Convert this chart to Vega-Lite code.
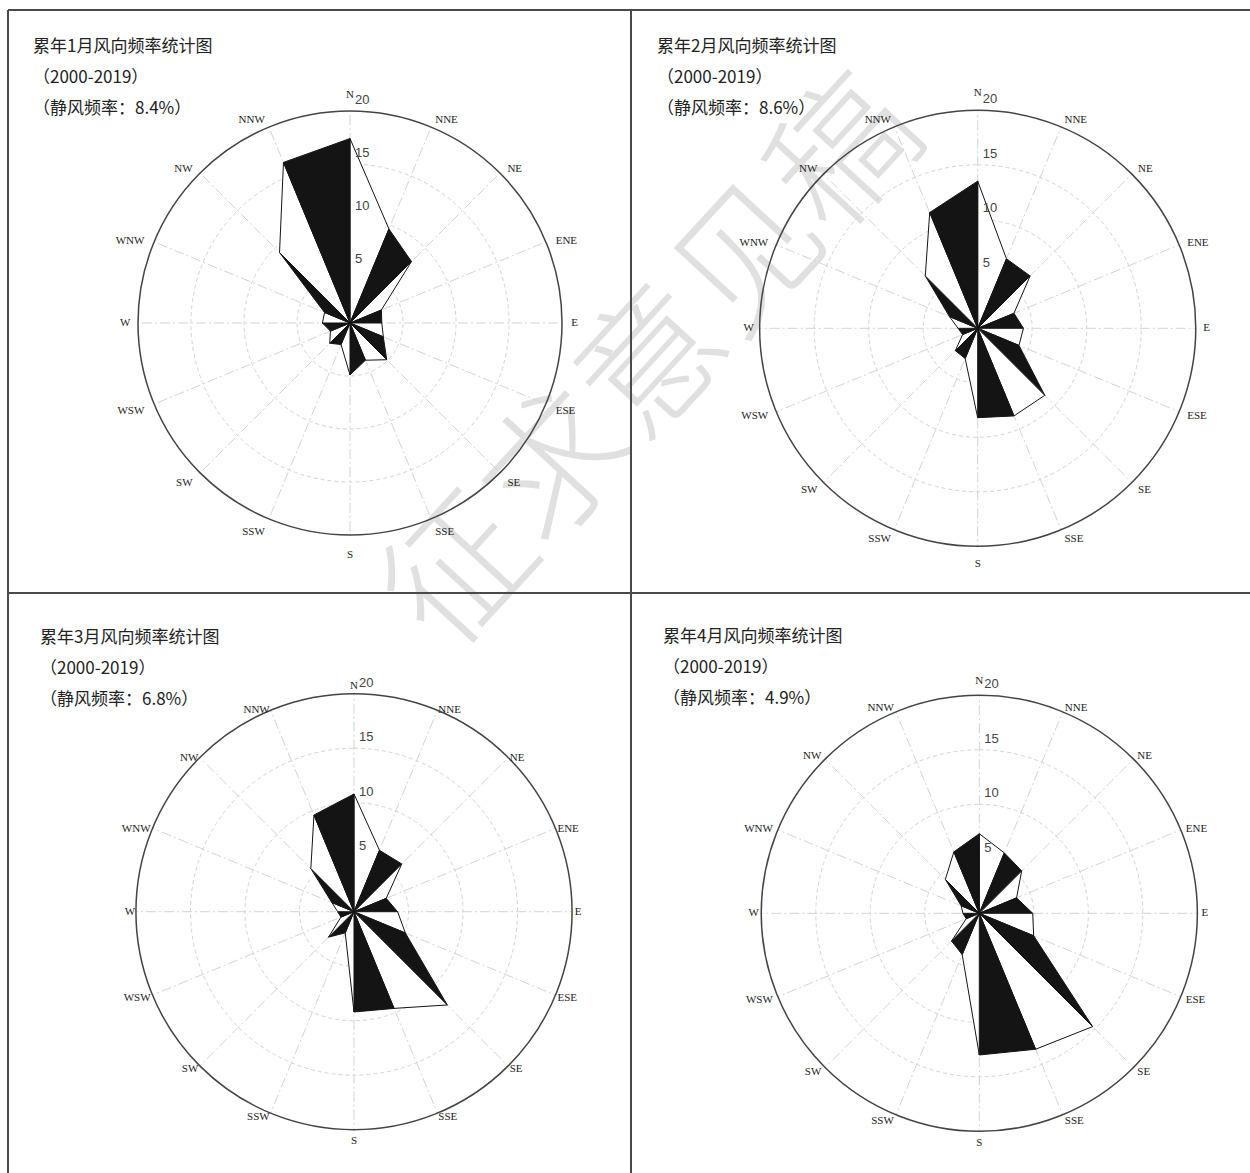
{
  "$schema": "https://vega.github.io/schema/vega-lite/v6.json",
  "background": "white",
  "padding": {"left": 7, "top": 9, "right": 0, "bottom": 0},
  "columns": 2,
  "spacing": 0,
  "bounds": "flush",
  "config": {"view": {"stroke": null}, "axis": {"disable": true}},
  "datasets": {
    "wind": [
      {"m": 1, "dir": "N", "f": 17.4}, {"m": 1, "dir": "NNE", "f": 9.6}, {"m": 1, "dir": "NE", "f": 8.2}, {"m": 1, "dir": "ENE", "f": 3.2},
      {"m": 1, "dir": "E", "f": 3.0}, {"m": 1, "dir": "ESE", "f": 3.4}, {"m": 1, "dir": "SE", "f": 4.9}, {"m": 1, "dir": "SSE", "f": 3.8},
      {"m": 1, "dir": "S", "f": 4.9}, {"m": 1, "dir": "SSW", "f": 2.2}, {"m": 1, "dir": "SW", "f": 2.7}, {"m": 1, "dir": "WSW", "f": 2.0},
      {"m": 1, "dir": "W", "f": 2.6}, {"m": 1, "dir": "WNW", "f": 2.6}, {"m": 1, "dir": "NW", "f": 9.4}, {"m": 1, "dir": "NNW", "f": 16.4},
      {"m": 2, "dir": "N", "f": 13.5}, {"m": 2, "dir": "NNE", "f": 6.9}, {"m": 2, "dir": "NE", "f": 6.8}, {"m": 2, "dir": "ENE", "f": 3.6},
      {"m": 2, "dir": "E", "f": 4.2}, {"m": 2, "dir": "ESE", "f": 4.1}, {"m": 2, "dir": "SE", "f": 8.7}, {"m": 2, "dir": "SSE", "f": 8.7},
      {"m": 2, "dir": "S", "f": 8.2}, {"m": 2, "dir": "SSW", "f": 3.0}, {"m": 2, "dir": "SW", "f": 2.9}, {"m": 2, "dir": "WSW", "f": 1.5},
      {"m": 2, "dir": "W", "f": 1.8}, {"m": 2, "dir": "WNW", "f": 2.8}, {"m": 2, "dir": "NW", "f": 6.8}, {"m": 2, "dir": "NNW", "f": 11.5},
      {"m": 3, "dir": "N", "f": 10.8}, {"m": 3, "dir": "NNE", "f": 6.1}, {"m": 3, "dir": "NE", "f": 6.2}, {"m": 3, "dir": "ENE", "f": 3.2},
      {"m": 3, "dir": "E", "f": 4.0}, {"m": 3, "dir": "ESE", "f": 5.1}, {"m": 3, "dir": "SE", "f": 12.1}, {"m": 3, "dir": "SSE", "f": 9.6},
      {"m": 3, "dir": "S", "f": 9.2}, {"m": 3, "dir": "SSW", "f": 2.1}, {"m": 3, "dir": "SW", "f": 3.3}, {"m": 3, "dir": "WSW", "f": 1.3},
      {"m": 3, "dir": "W", "f": 1.5}, {"m": 3, "dir": "WNW", "f": 2.2}, {"m": 3, "dir": "NW", "f": 5.6}, {"m": 3, "dir": "NNW", "f": 9.6},
      {"m": 4, "dir": "N", "f": 7.3}, {"m": 4, "dir": "NNE", "f": 6.0}, {"m": 4, "dir": "NE", "f": 5.5}, {"m": 4, "dir": "ENE", "f": 3.7},
      {"m": 4, "dir": "E", "f": 4.9}, {"m": 4, "dir": "ESE", "f": 5.4}, {"m": 4, "dir": "SE", "f": 14.7}, {"m": 4, "dir": "SSE", "f": 13.5},
      {"m": 4, "dir": "S", "f": 13.0}, {"m": 4, "dir": "SSW", "f": 4.1}, {"m": 4, "dir": "SW", "f": 3.6}, {"m": 4, "dir": "WSW", "f": 1.3},
      {"m": 4, "dir": "W", "f": 1.5}, {"m": 4, "dir": "WNW", "f": 1.8}, {"m": 4, "dir": "NW", "f": 4.4}, {"m": 4, "dir": "NNW", "f": 6.1}
    ],
    "rings": [{"r": 5}, {"r": 10}, {"r": 15}, {"r": 20}],
    "titles": [
      {"m": 1, "title": "累年1月风向频率统计图", "period": "（2000-2019）", "calm": "（静风频率：8.4%）"},
      {"m": 2, "title": "累年2月风向频率统计图", "period": "（2000-2019）", "calm": "（静风频率：8.6%）"},
      {"m": 3, "title": "累年3月风向频率统计图", "period": "（2000-2019）", "calm": "（静风频率：6.8%）"},
      {"m": 4, "title": "累年4月风向频率统计图", "period": "（2000-2019）", "calm": "（静风频率：4.9%）"}
    ]
  },
  "concat": [
    {
      "width": 623, "height": 583,
      "layer": [
        {"data": {"values": [{"note": "征求意见稿"}]},
         "mark": {"type": "text", "font": "Noto Sans CJK SC", "fontSize": 142, "fontWeight": 300, "angle": -47.3, "align": "center", "baseline": "middle", "fill": "#e0e0e0"},
         "encoding": {"x": {"datum": 28.9, "type": "quantitative", "scale": {"domain": [-32.264, 26.509], "nice": false, "zero": false}},
                      "y": {"datum": -4.0, "type": "quantitative", "scale": {"domain": [-25.472, 29.528], "nice": false, "zero": false}},
                      "text": {"field": "note", "type": "nominal"}}},
        {"data": {"name": "rings"}, "transform": [{"filter": "datum.r < 20"}],
         "mark": {"type": "arc", "filled": false, "stroke": "#d4d4d4", "strokeWidth": 1, "strokeDash": [4, 3], "theta": 0, "theta2": 6.2832},
         "encoding": {"x": {"datum": 0, "type": "quantitative", "scale": {"domain": [-32.264, 26.509], "nice": false, "zero": false}},
                      "y": {"datum": 0, "type": "quantitative", "scale": {"domain": [-25.472, 29.528], "nice": false, "zero": false}},
                      "radius": {"field": "r", "type": "quantitative", "stack": null, "scale": {"type": "linear", "domain": [0, 20], "range": [0, 212]}}}},
        {"data": {"name": "wind"},
         "transform": [{"filter": "datum.m == 1"}, {"window": [{"op": "row_number", "as": "i"}]},
                       {"calculate": "(datum.i - 1) * PI / 8", "as": "a"}, {"calculate": "0", "as": "c0"},
                       {"calculate": "20 * sin(datum.a)", "as": "sx"}, {"calculate": "20 * cos(datum.a)", "as": "sy"}],
         "mark": {"type": "rule", "stroke": "#d4d4d4", "strokeWidth": 1, "strokeDash": [10, 3, 2, 3]},
         "encoding": {"x": {"field": "c0", "type": "quantitative", "scale": {"domain": [-32.264, 26.509], "nice": false, "zero": false}},
                      "y": {"field": "c0", "type": "quantitative", "scale": {"domain": [-25.472, 29.528], "nice": false, "zero": false}},
                      "x2": {"field": "sx"}, "y2": {"field": "sy"}}},
        {"data": {"name": "rings"}, "transform": [{"filter": "datum.r == 20"}],
         "mark": {"type": "arc", "filled": false, "stroke": "#444444", "strokeWidth": 1.5, "theta": 0, "theta2": 6.2832},
         "encoding": {"x": {"datum": 0, "type": "quantitative", "scale": {"domain": [-32.264, 26.509], "nice": false, "zero": false}},
                      "y": {"datum": 0, "type": "quantitative", "scale": {"domain": [-25.472, 29.528], "nice": false, "zero": false}},
                      "radius": {"field": "r", "type": "quantitative", "stack": null, "scale": {"type": "linear", "domain": [0, 20], "range": [0, 212]}}}},
        {"data": {"name": "wind"},
         "transform": [{"filter": "datum.m == 1"}, {"window": [{"op": "row_number", "as": "i"}]},
                       {"window": [{"op": "lead", "field": "f", "as": "fn"}, {"op": "first_value", "field": "f", "as": "f0"}], "sort": [{"field": "i"}], "frame": [null, null]},
                       {"calculate": "datum.fn == null ? datum.f0 : datum.fn", "as": "f2"},
                       {"calculate": "(datum.i - 1) * PI / 8", "as": "a1"}, {"calculate": "datum.i * PI / 8", "as": "a2"},
                       {"calculate": "datum.i % 2 == 0 ? 'black' : 'white'", "as": "shade"},
                       {"calculate": "[0, 1, 2, 3]", "as": "v"}, {"flatten": ["v"]},
                       {"calculate": "datum.v == 1 ? datum.f * sin(datum.a1) : datum.v == 2 ? datum.f2 * sin(datum.a2) : 0", "as": "px"},
                       {"calculate": "datum.v == 1 ? datum.f * cos(datum.a1) : datum.v == 2 ? datum.f2 * cos(datum.a2) : 0", "as": "py"}],
         "mark": {"type": "line", "stroke": "#141414", "strokeWidth": 1, "strokeJoin": "miter"},
         "encoding": {"x": {"field": "px", "type": "quantitative", "scale": {"domain": [-32.264, 26.509], "nice": false, "zero": false}},
                      "y": {"field": "py", "type": "quantitative", "scale": {"domain": [-25.472, 29.528], "nice": false, "zero": false}},
                      "order": {"field": "v", "type": "quantitative"}, "detail": {"field": "i", "type": "nominal"},
                      "fill": {"field": "shade", "type": "nominal", "scale": {"domain": ["black", "white"], "range": ["#141414", "#ffffff"]}, "legend": null}}},
        {"data": {"name": "rings"},
         "mark": {"type": "text", "align": "left", "baseline": "alphabetic", "dx": 5, "dy": -7, "font": "Liberation Sans", "fontSize": 13, "fill": "#444444"},
         "encoding": {"x": {"datum": 0, "type": "quantitative", "scale": {"domain": [-32.264, 26.509], "nice": false, "zero": false}},
                      "y": {"field": "r", "type": "quantitative", "scale": {"domain": [-25.472, 29.528], "nice": false, "zero": false}},
                      "text": {"field": "r", "type": "quantitative"}}},
        {"data": {"name": "wind"},
         "transform": [{"filter": "datum.m == 1"}, {"window": [{"op": "row_number", "as": "i"}]}, {"filter": "datum.i >= 2 && datum.i <= 8 && datum.i != 5"},
                       {"calculate": "(datum.i - 1) * PI / 8", "as": "a"},
                       {"calculate": "21.0 * sin(datum.a)", "as": "lx"}, {"calculate": "21.0 * cos(datum.a)", "as": "ly"}],
         "mark": {"type": "text", "font": "Liberation Serif", "fontSize": 11, "fill": "#222222", "align": "left", "baseline": "middle", "dy": 3},
         "encoding": {"x": {"field": "lx", "type": "quantitative", "scale": {"domain": [-32.264, 26.509], "nice": false, "zero": false}},
                      "y": {"field": "ly", "type": "quantitative", "scale": {"domain": [-25.472, 29.528], "nice": false, "zero": false}},
                      "text": {"field": "dir", "type": "nominal"}}},
        {"data": {"name": "wind"},
         "transform": [{"filter": "datum.m == 1"}, {"window": [{"op": "row_number", "as": "i"}]}, {"filter": "datum.i >= 10 && datum.i != 13"},
                       {"calculate": "(datum.i - 1) * PI / 8", "as": "a"},
                       {"calculate": "21.0 * sin(datum.a)", "as": "lx"}, {"calculate": "21.0 * cos(datum.a)", "as": "ly"}],
         "mark": {"type": "text", "font": "Liberation Serif", "fontSize": 11, "fill": "#222222", "align": "right", "baseline": "middle", "dy": 3},
         "encoding": {"x": {"field": "lx", "type": "quantitative", "scale": {"domain": [-32.264, 26.509], "nice": false, "zero": false}},
                      "y": {"field": "ly", "type": "quantitative", "scale": {"domain": [-25.472, 29.528], "nice": false, "zero": false}},
                      "text": {"field": "dir", "type": "nominal"}}},
        {"data": {"name": "wind"},
         "transform": [{"filter": "datum.m == 1"}, {"window": [{"op": "row_number", "as": "i"}]}, {"filter": "datum.i == 1 || datum.i == 5 || datum.i == 9 || datum.i == 13"},
                       {"calculate": "(datum.i - 1) * PI / 8", "as": "a"},
                       {"calculate": "cos(datum.a) > 0.5 ? 21.5 : cos(datum.a) < -0.5 ? 21.9 : 21.2", "as": "lr"},
                       {"calculate": "datum.lr * sin(datum.a)", "as": "lx"}, {"calculate": "datum.lr * cos(datum.a)", "as": "ly"}],
         "mark": {"type": "text", "font": "Liberation Serif", "fontSize": 11, "fill": "#222222", "align": "center", "baseline": "middle"},
         "encoding": {"x": {"field": "lx", "type": "quantitative", "scale": {"domain": [-32.264, 26.509], "nice": false, "zero": false}},
                      "y": {"field": "ly", "type": "quantitative", "scale": {"domain": [-25.472, 29.528], "nice": false, "zero": false}},
                      "text": {"field": "dir", "type": "nominal"}}},
        {"data": {"name": "titles"},
         "transform": [{"filter": "datum.m == 1"}, {"calculate": "[datum.title, datum.period, datum.calm]", "as": "lines"}],
         "mark": {"type": "text", "align": "left", "baseline": "top", "font": "Noto Sans CJK SC", "fontSize": 17, "lineHeight": 31, "fill": "#222222"},
         "encoding": {"x": {"datum": -29.906, "type": "quantitative", "scale": {"domain": [-32.264, 26.509], "nice": false, "zero": false}},
                      "y": {"datum": 26.79, "type": "quantitative", "scale": {"domain": [-25.472, 29.528], "nice": false, "zero": false}},
                      "text": {"field": "lines", "type": "nominal"}}},
        {"data": {"values": [{"edge": "left"}]},
         "mark": {"type": "rule", "stroke": "#4a4a4a", "strokeWidth": 2},
         "encoding": {"x": {"datum": -32.264, "type": "quantitative", "scale": {"domain": [-32.264, 26.509], "nice": false, "zero": false}}}},
        {"data": {"values": [{"edge": "top"}]},
         "mark": {"type": "rule", "stroke": "#4a4a4a", "strokeWidth": 2},
         "encoding": {"y": {"datum": 29.528, "type": "quantitative", "scale": {"domain": [-25.472, 29.528], "nice": false, "zero": false}}}}
      ]
    },
    {
      "width": 619, "height": 583,
      "layer": [
        {"data": {"name": "rings"}, "transform": [{"filter": "datum.r < 20"}],
         "mark": {"type": "arc", "filled": false, "stroke": "#d4d4d4", "strokeWidth": 1, "strokeDash": [4, 3], "theta": 0, "theta2": 6.2832},
         "encoding": {"x": {"datum": 0, "type": "quantitative", "scale": {"domain": [-31.807, 24.982], "nice": false, "zero": false}},
                      "y": {"datum": 0, "type": "quantitative", "scale": {"domain": [-24.284, 29.202], "nice": false, "zero": false}},
                      "radius": {"field": "r", "type": "quantitative", "stack": null, "scale": {"type": "linear", "domain": [0, 20], "range": [0, 218]}}}},
        {"data": {"name": "wind"},
         "transform": [{"filter": "datum.m == 2"}, {"window": [{"op": "row_number", "as": "i"}]},
                       {"calculate": "(datum.i - 1) * PI / 8", "as": "a"}, {"calculate": "0", "as": "c0"},
                       {"calculate": "20 * sin(datum.a)", "as": "sx"}, {"calculate": "20 * cos(datum.a)", "as": "sy"}],
         "mark": {"type": "rule", "stroke": "#d4d4d4", "strokeWidth": 1, "strokeDash": [10, 3, 2, 3]},
         "encoding": {"x": {"field": "c0", "type": "quantitative", "scale": {"domain": [-31.807, 24.982], "nice": false, "zero": false}},
                      "y": {"field": "c0", "type": "quantitative", "scale": {"domain": [-24.284, 29.202], "nice": false, "zero": false}},
                      "x2": {"field": "sx"}, "y2": {"field": "sy"}}},
        {"data": {"name": "rings"}, "transform": [{"filter": "datum.r == 20"}],
         "mark": {"type": "arc", "filled": false, "stroke": "#444444", "strokeWidth": 1.5, "theta": 0, "theta2": 6.2832},
         "encoding": {"x": {"datum": 0, "type": "quantitative", "scale": {"domain": [-31.807, 24.982], "nice": false, "zero": false}},
                      "y": {"datum": 0, "type": "quantitative", "scale": {"domain": [-24.284, 29.202], "nice": false, "zero": false}},
                      "radius": {"field": "r", "type": "quantitative", "stack": null, "scale": {"type": "linear", "domain": [0, 20], "range": [0, 218]}}}},
        {"data": {"name": "wind"},
         "transform": [{"filter": "datum.m == 2"}, {"window": [{"op": "row_number", "as": "i"}]},
                       {"window": [{"op": "lead", "field": "f", "as": "fn"}, {"op": "first_value", "field": "f", "as": "f0"}], "sort": [{"field": "i"}], "frame": [null, null]},
                       {"calculate": "datum.fn == null ? datum.f0 : datum.fn", "as": "f2"},
                       {"calculate": "(datum.i - 1) * PI / 8", "as": "a1"}, {"calculate": "datum.i * PI / 8", "as": "a2"},
                       {"calculate": "datum.i % 2 == 0 ? 'black' : 'white'", "as": "shade"},
                       {"calculate": "[0, 1, 2, 3]", "as": "v"}, {"flatten": ["v"]},
                       {"calculate": "datum.v == 1 ? datum.f * sin(datum.a1) : datum.v == 2 ? datum.f2 * sin(datum.a2) : 0", "as": "px"},
                       {"calculate": "datum.v == 1 ? datum.f * cos(datum.a1) : datum.v == 2 ? datum.f2 * cos(datum.a2) : 0", "as": "py"}],
         "mark": {"type": "line", "stroke": "#141414", "strokeWidth": 1, "strokeJoin": "miter"},
         "encoding": {"x": {"field": "px", "type": "quantitative", "scale": {"domain": [-31.807, 24.982], "nice": false, "zero": false}},
                      "y": {"field": "py", "type": "quantitative", "scale": {"domain": [-24.284, 29.202], "nice": false, "zero": false}},
                      "order": {"field": "v", "type": "quantitative"}, "detail": {"field": "i", "type": "nominal"},
                      "fill": {"field": "shade", "type": "nominal", "scale": {"domain": ["black", "white"], "range": ["#141414", "#ffffff"]}, "legend": null}}},
        {"data": {"name": "rings"},
         "mark": {"type": "text", "align": "left", "baseline": "alphabetic", "dx": 5, "dy": -7, "font": "Liberation Sans", "fontSize": 13, "fill": "#444444"},
         "encoding": {"x": {"datum": 0, "type": "quantitative", "scale": {"domain": [-31.807, 24.982], "nice": false, "zero": false}},
                      "y": {"field": "r", "type": "quantitative", "scale": {"domain": [-24.284, 29.202], "nice": false, "zero": false}},
                      "text": {"field": "r", "type": "quantitative"}}},
        {"data": {"name": "wind"},
         "transform": [{"filter": "datum.m == 2"}, {"window": [{"op": "row_number", "as": "i"}]}, {"filter": "datum.i >= 2 && datum.i <= 8 && datum.i != 5"},
                       {"calculate": "(datum.i - 1) * PI / 8", "as": "a"},
                       {"calculate": "20.8 * sin(datum.a)", "as": "lx"}, {"calculate": "20.8 * cos(datum.a)", "as": "ly"}],
         "mark": {"type": "text", "font": "Liberation Serif", "fontSize": 11, "fill": "#222222", "align": "left", "baseline": "middle", "dy": 1},
         "encoding": {"x": {"field": "lx", "type": "quantitative", "scale": {"domain": [-31.807, 24.982], "nice": false, "zero": false}},
                      "y": {"field": "ly", "type": "quantitative", "scale": {"domain": [-24.284, 29.202], "nice": false, "zero": false}},
                      "text": {"field": "dir", "type": "nominal"}}},
        {"data": {"name": "wind"},
         "transform": [{"filter": "datum.m == 2"}, {"window": [{"op": "row_number", "as": "i"}]}, {"filter": "datum.i >= 10 && datum.i != 13"},
                       {"calculate": "(datum.i - 1) * PI / 8", "as": "a"},
                       {"calculate": "20.8 * sin(datum.a)", "as": "lx"}, {"calculate": "20.8 * cos(datum.a)", "as": "ly"}],
         "mark": {"type": "text", "font": "Liberation Serif", "fontSize": 11, "fill": "#222222", "align": "right", "baseline": "middle", "dy": 1},
         "encoding": {"x": {"field": "lx", "type": "quantitative", "scale": {"domain": [-31.807, 24.982], "nice": false, "zero": false}},
                      "y": {"field": "ly", "type": "quantitative", "scale": {"domain": [-24.284, 29.202], "nice": false, "zero": false}},
                      "text": {"field": "dir", "type": "nominal"}}},
        {"data": {"name": "wind"},
         "transform": [{"filter": "datum.m == 2"}, {"window": [{"op": "row_number", "as": "i"}]}, {"filter": "datum.i == 1 || datum.i == 5 || datum.i == 9 || datum.i == 13"},
                       {"calculate": "(datum.i - 1) * PI / 8", "as": "a"},
                       {"calculate": "cos(datum.a) > 0.5 ? 21.56 : cos(datum.a) < -0.5 ? 21.6 : 21.0", "as": "lr"},
                       {"calculate": "datum.lr * sin(datum.a)", "as": "lx"}, {"calculate": "datum.lr * cos(datum.a)", "as": "ly"}],
         "mark": {"type": "text", "font": "Liberation Serif", "fontSize": 11, "fill": "#222222", "align": "center", "baseline": "middle"},
         "encoding": {"x": {"field": "lx", "type": "quantitative", "scale": {"domain": [-31.807, 24.982], "nice": false, "zero": false}},
                      "y": {"field": "ly", "type": "quantitative", "scale": {"domain": [-24.284, 29.202], "nice": false, "zero": false}},
                      "text": {"field": "dir", "type": "nominal"}}},
        {"data": {"name": "titles"},
         "transform": [{"filter": "datum.m == 2"}, {"calculate": "[datum.title, datum.period, datum.calm]", "as": "lines"}],
         "mark": {"type": "text", "align": "left", "baseline": "top", "font": "Noto Sans CJK SC", "fontSize": 17, "lineHeight": 31, "fill": "#222222"},
         "encoding": {"x": {"datum": -29.422, "type": "quantitative", "scale": {"domain": [-31.807, 24.982], "nice": false, "zero": false}},
                      "y": {"datum": 26.5, "type": "quantitative", "scale": {"domain": [-24.284, 29.202], "nice": false, "zero": false}},
                      "text": {"field": "lines", "type": "nominal"}}},
        {"data": {"values": [{"edge": "left"}]},
         "mark": {"type": "rule", "stroke": "#4a4a4a", "strokeWidth": 2},
         "encoding": {"x": {"datum": -31.807, "type": "quantitative", "scale": {"domain": [-31.807, 24.982], "nice": false, "zero": false}}}},
        {"data": {"values": [{"edge": "top"}]},
         "mark": {"type": "rule", "stroke": "#4a4a4a", "strokeWidth": 2},
         "encoding": {"y": {"datum": 29.202, "type": "quantitative", "scale": {"domain": [-24.284, 29.202], "nice": false, "zero": false}}}}
      ]
    },
    {
      "width": 623, "height": 580,
      "layer": [
        {"data": {"name": "rings"}, "transform": [{"filter": "datum.r < 20"}],
         "mark": {"type": "arc", "filled": false, "stroke": "#d4d4d4", "strokeWidth": 1, "strokeDash": [4, 3], "theta": 0, "theta2": 6.2832},
         "encoding": {"x": {"datum": 0, "type": "quantitative", "scale": {"domain": [-31.743, 25.413], "nice": false, "zero": false}},
                      "y": {"datum": 0, "type": "quantitative", "scale": {"domain": [-23.972, 29.239], "nice": false, "zero": false}},
                      "radius": {"field": "r", "type": "quantitative", "stack": null, "scale": {"type": "linear", "domain": [0, 20], "range": [0, 218]}}}},
        {"data": {"name": "wind"},
         "transform": [{"filter": "datum.m == 3"}, {"window": [{"op": "row_number", "as": "i"}]},
                       {"calculate": "(datum.i - 1) * PI / 8", "as": "a"}, {"calculate": "0", "as": "c0"},
                       {"calculate": "20 * sin(datum.a)", "as": "sx"}, {"calculate": "20 * cos(datum.a)", "as": "sy"}],
         "mark": {"type": "rule", "stroke": "#d4d4d4", "strokeWidth": 1, "strokeDash": [10, 3, 2, 3]},
         "encoding": {"x": {"field": "c0", "type": "quantitative", "scale": {"domain": [-31.743, 25.413], "nice": false, "zero": false}},
                      "y": {"field": "c0", "type": "quantitative", "scale": {"domain": [-23.972, 29.239], "nice": false, "zero": false}},
                      "x2": {"field": "sx"}, "y2": {"field": "sy"}}},
        {"data": {"name": "rings"}, "transform": [{"filter": "datum.r == 20"}],
         "mark": {"type": "arc", "filled": false, "stroke": "#444444", "strokeWidth": 1.5, "theta": 0, "theta2": 6.2832},
         "encoding": {"x": {"datum": 0, "type": "quantitative", "scale": {"domain": [-31.743, 25.413], "nice": false, "zero": false}},
                      "y": {"datum": 0, "type": "quantitative", "scale": {"domain": [-23.972, 29.239], "nice": false, "zero": false}},
                      "radius": {"field": "r", "type": "quantitative", "stack": null, "scale": {"type": "linear", "domain": [0, 20], "range": [0, 218]}}}},
        {"data": {"name": "wind"},
         "transform": [{"filter": "datum.m == 3"}, {"window": [{"op": "row_number", "as": "i"}]},
                       {"window": [{"op": "lead", "field": "f", "as": "fn"}, {"op": "first_value", "field": "f", "as": "f0"}], "sort": [{"field": "i"}], "frame": [null, null]},
                       {"calculate": "datum.fn == null ? datum.f0 : datum.fn", "as": "f2"},
                       {"calculate": "(datum.i - 1) * PI / 8", "as": "a1"}, {"calculate": "datum.i * PI / 8", "as": "a2"},
                       {"calculate": "datum.i % 2 == 0 ? 'black' : 'white'", "as": "shade"},
                       {"calculate": "[0, 1, 2, 3]", "as": "v"}, {"flatten": ["v"]},
                       {"calculate": "datum.v == 1 ? datum.f * sin(datum.a1) : datum.v == 2 ? datum.f2 * sin(datum.a2) : 0", "as": "px"},
                       {"calculate": "datum.v == 1 ? datum.f * cos(datum.a1) : datum.v == 2 ? datum.f2 * cos(datum.a2) : 0", "as": "py"}],
         "mark": {"type": "line", "stroke": "#141414", "strokeWidth": 1, "strokeJoin": "miter"},
         "encoding": {"x": {"field": "px", "type": "quantitative", "scale": {"domain": [-31.743, 25.413], "nice": false, "zero": false}},
                      "y": {"field": "py", "type": "quantitative", "scale": {"domain": [-23.972, 29.239], "nice": false, "zero": false}},
                      "order": {"field": "v", "type": "quantitative"}, "detail": {"field": "i", "type": "nominal"},
                      "fill": {"field": "shade", "type": "nominal", "scale": {"domain": ["black", "white"], "range": ["#141414", "#ffffff"]}, "legend": null}}},
        {"data": {"name": "rings"},
         "mark": {"type": "text", "align": "left", "baseline": "alphabetic", "dx": 5, "dy": -7, "font": "Liberation Sans", "fontSize": 13, "fill": "#444444"},
         "encoding": {"x": {"datum": 0, "type": "quantitative", "scale": {"domain": [-31.743, 25.413], "nice": false, "zero": false}},
                      "y": {"field": "r", "type": "quantitative", "scale": {"domain": [-23.972, 29.239], "nice": false, "zero": false}},
                      "text": {"field": "r", "type": "quantitative"}}},
        {"data": {"name": "wind"},
         "transform": [{"filter": "datum.m == 3"}, {"window": [{"op": "row_number", "as": "i"}]}, {"filter": "datum.i >= 2 && datum.i <= 8 && datum.i != 5"},
                       {"calculate": "(datum.i - 1) * PI / 8", "as": "a"},
                       {"calculate": "20.2 * sin(datum.a)", "as": "lx"}, {"calculate": "20.2 * cos(datum.a)", "as": "ly"}],
         "mark": {"type": "text", "font": "Liberation Serif", "fontSize": 11, "fill": "#222222", "align": "left", "baseline": "middle", "dy": 2},
         "encoding": {"x": {"field": "lx", "type": "quantitative", "scale": {"domain": [-31.743, 25.413], "nice": false, "zero": false}},
                      "y": {"field": "ly", "type": "quantitative", "scale": {"domain": [-23.972, 29.239], "nice": false, "zero": false}},
                      "text": {"field": "dir", "type": "nominal"}}},
        {"data": {"name": "wind"},
         "transform": [{"filter": "datum.m == 3"}, {"window": [{"op": "row_number", "as": "i"}]}, {"filter": "datum.i >= 10 && datum.i != 13"},
                       {"calculate": "(datum.i - 1) * PI / 8", "as": "a"},
                       {"calculate": "20.2 * sin(datum.a)", "as": "lx"}, {"calculate": "20.2 * cos(datum.a)", "as": "ly"}],
         "mark": {"type": "text", "font": "Liberation Serif", "fontSize": 11, "fill": "#222222", "align": "right", "baseline": "middle", "dy": 2},
         "encoding": {"x": {"field": "lx", "type": "quantitative", "scale": {"domain": [-31.743, 25.413], "nice": false, "zero": false}},
                      "y": {"field": "ly", "type": "quantitative", "scale": {"domain": [-23.972, 29.239], "nice": false, "zero": false}},
                      "text": {"field": "dir", "type": "nominal"}}},
        {"data": {"name": "wind"},
         "transform": [{"filter": "datum.m == 3"}, {"window": [{"op": "row_number", "as": "i"}]}, {"filter": "datum.i == 1 || datum.i == 5 || datum.i == 9 || datum.i == 13"},
                       {"calculate": "(datum.i - 1) * PI / 8", "as": "a"},
                       {"calculate": "cos(datum.a) > 0.5 ? 20.7 : cos(datum.a) < -0.5 ? 21.0 : 20.55", "as": "lr"},
                       {"calculate": "datum.lr * sin(datum.a)", "as": "lx"}, {"calculate": "datum.lr * cos(datum.a)", "as": "ly"}],
         "mark": {"type": "text", "font": "Liberation Serif", "fontSize": 11, "fill": "#222222", "align": "center", "baseline": "middle"},
         "encoding": {"x": {"field": "lx", "type": "quantitative", "scale": {"domain": [-31.743, 25.413], "nice": false, "zero": false}},
                      "y": {"field": "ly", "type": "quantitative", "scale": {"domain": [-23.972, 29.239], "nice": false, "zero": false}},
                      "text": {"field": "dir", "type": "nominal"}}},
        {"data": {"name": "titles"},
         "transform": [{"filter": "datum.m == 3"}, {"calculate": "[datum.title, datum.period, datum.calm]", "as": "lines"}],
         "mark": {"type": "text", "align": "left", "baseline": "top", "font": "Noto Sans CJK SC", "fontSize": 17, "lineHeight": 31, "fill": "#222222"},
         "encoding": {"x": {"datum": -28.807, "type": "quantitative", "scale": {"domain": [-31.743, 25.413], "nice": false, "zero": false}},
                      "y": {"datum": 25.85, "type": "quantitative", "scale": {"domain": [-23.972, 29.239], "nice": false, "zero": false}},
                      "text": {"field": "lines", "type": "nominal"}}},
        {"data": {"values": [{"edge": "left"}]},
         "mark": {"type": "rule", "stroke": "#4a4a4a", "strokeWidth": 2},
         "encoding": {"x": {"datum": -31.743, "type": "quantitative", "scale": {"domain": [-31.743, 25.413], "nice": false, "zero": false}}}},
        {"data": {"values": [{"edge": "top"}]},
         "mark": {"type": "rule", "stroke": "#4a4a4a", "strokeWidth": 2},
         "encoding": {"y": {"datum": 29.239, "type": "quantitative", "scale": {"domain": [-23.972, 29.239], "nice": false, "zero": false}}}}
      ]
    },
    {
      "width": 619, "height": 580,
      "layer": [
        {"data": {"name": "rings"}, "transform": [{"filter": "datum.r < 20"}],
         "mark": {"type": "arc", "filled": false, "stroke": "#d4d4d4", "strokeWidth": 1, "strokeDash": [4, 3], "theta": 0, "theta2": 6.2832},
         "encoding": {"x": {"datum": 0, "type": "quantitative", "scale": {"domain": [-31.954, 24.835], "nice": false, "zero": false}},
                      "y": {"datum": 0, "type": "quantitative", "scale": {"domain": [-23.826, 29.385], "nice": false, "zero": false}},
                      "radius": {"field": "r", "type": "quantitative", "stack": null, "scale": {"type": "linear", "domain": [0, 20], "range": [0, 218]}}}},
        {"data": {"name": "wind"},
         "transform": [{"filter": "datum.m == 4"}, {"window": [{"op": "row_number", "as": "i"}]},
                       {"calculate": "(datum.i - 1) * PI / 8", "as": "a"}, {"calculate": "0", "as": "c0"},
                       {"calculate": "20 * sin(datum.a)", "as": "sx"}, {"calculate": "20 * cos(datum.a)", "as": "sy"}],
         "mark": {"type": "rule", "stroke": "#d4d4d4", "strokeWidth": 1, "strokeDash": [10, 3, 2, 3]},
         "encoding": {"x": {"field": "c0", "type": "quantitative", "scale": {"domain": [-31.954, 24.835], "nice": false, "zero": false}},
                      "y": {"field": "c0", "type": "quantitative", "scale": {"domain": [-23.826, 29.385], "nice": false, "zero": false}},
                      "x2": {"field": "sx"}, "y2": {"field": "sy"}}},
        {"data": {"name": "rings"}, "transform": [{"filter": "datum.r == 20"}],
         "mark": {"type": "arc", "filled": false, "stroke": "#444444", "strokeWidth": 1.5, "theta": 0, "theta2": 6.2832},
         "encoding": {"x": {"datum": 0, "type": "quantitative", "scale": {"domain": [-31.954, 24.835], "nice": false, "zero": false}},
                      "y": {"datum": 0, "type": "quantitative", "scale": {"domain": [-23.826, 29.385], "nice": false, "zero": false}},
                      "radius": {"field": "r", "type": "quantitative", "stack": null, "scale": {"type": "linear", "domain": [0, 20], "range": [0, 218]}}}},
        {"data": {"name": "wind"},
         "transform": [{"filter": "datum.m == 4"}, {"window": [{"op": "row_number", "as": "i"}]},
                       {"window": [{"op": "lead", "field": "f", "as": "fn"}, {"op": "first_value", "field": "f", "as": "f0"}], "sort": [{"field": "i"}], "frame": [null, null]},
                       {"calculate": "datum.fn == null ? datum.f0 : datum.fn", "as": "f2"},
                       {"calculate": "(datum.i - 1) * PI / 8", "as": "a1"}, {"calculate": "datum.i * PI / 8", "as": "a2"},
                       {"calculate": "datum.i % 2 == 0 ? 'black' : 'white'", "as": "shade"},
                       {"calculate": "[0, 1, 2, 3]", "as": "v"}, {"flatten": ["v"]},
                       {"calculate": "datum.v == 1 ? datum.f * sin(datum.a1) : datum.v == 2 ? datum.f2 * sin(datum.a2) : 0", "as": "px"},
                       {"calculate": "datum.v == 1 ? datum.f * cos(datum.a1) : datum.v == 2 ? datum.f2 * cos(datum.a2) : 0", "as": "py"}],
         "mark": {"type": "line", "stroke": "#141414", "strokeWidth": 1, "strokeJoin": "miter"},
         "encoding": {"x": {"field": "px", "type": "quantitative", "scale": {"domain": [-31.954, 24.835], "nice": false, "zero": false}},
                      "y": {"field": "py", "type": "quantitative", "scale": {"domain": [-23.826, 29.385], "nice": false, "zero": false}},
                      "order": {"field": "v", "type": "quantitative"}, "detail": {"field": "i", "type": "nominal"},
                      "fill": {"field": "shade", "type": "nominal", "scale": {"domain": ["black", "white"], "range": ["#141414", "#ffffff"]}, "legend": null}}},
        {"data": {"name": "rings"},
         "mark": {"type": "text", "align": "left", "baseline": "alphabetic", "dx": 5, "dy": -7, "font": "Liberation Sans", "fontSize": 13, "fill": "#444444"},
         "encoding": {"x": {"datum": 0, "type": "quantitative", "scale": {"domain": [-31.954, 24.835], "nice": false, "zero": false}},
                      "y": {"field": "r", "type": "quantitative", "scale": {"domain": [-23.826, 29.385], "nice": false, "zero": false}},
                      "text": {"field": "r", "type": "quantitative"}}},
        {"data": {"name": "wind"},
         "transform": [{"filter": "datum.m == 4"}, {"window": [{"op": "row_number", "as": "i"}]}, {"filter": "datum.i >= 2 && datum.i <= 8 && datum.i != 5"},
                       {"calculate": "(datum.i - 1) * PI / 8", "as": "a"},
                       {"calculate": "20.5 * sin(datum.a)", "as": "lx"}, {"calculate": "20.5 * cos(datum.a)", "as": "ly"}],
         "mark": {"type": "text", "font": "Liberation Serif", "fontSize": 11, "fill": "#222222", "align": "left", "baseline": "middle", "dy": 1},
         "encoding": {"x": {"field": "lx", "type": "quantitative", "scale": {"domain": [-31.954, 24.835], "nice": false, "zero": false}},
                      "y": {"field": "ly", "type": "quantitative", "scale": {"domain": [-23.826, 29.385], "nice": false, "zero": false}},
                      "text": {"field": "dir", "type": "nominal"}}},
        {"data": {"name": "wind"},
         "transform": [{"filter": "datum.m == 4"}, {"window": [{"op": "row_number", "as": "i"}]}, {"filter": "datum.i >= 10 && datum.i != 13"},
                       {"calculate": "(datum.i - 1) * PI / 8", "as": "a"},
                       {"calculate": "20.5 * sin(datum.a)", "as": "lx"}, {"calculate": "20.5 * cos(datum.a)", "as": "ly"}],
         "mark": {"type": "text", "font": "Liberation Serif", "fontSize": 11, "fill": "#222222", "align": "right", "baseline": "middle", "dy": 1},
         "encoding": {"x": {"field": "lx", "type": "quantitative", "scale": {"domain": [-31.954, 24.835], "nice": false, "zero": false}},
                      "y": {"field": "ly", "type": "quantitative", "scale": {"domain": [-23.826, 29.385], "nice": false, "zero": false}},
                      "text": {"field": "dir", "type": "nominal"}}},
        {"data": {"name": "wind"},
         "transform": [{"filter": "datum.m == 4"}, {"window": [{"op": "row_number", "as": "i"}]}, {"filter": "datum.i == 1 || datum.i == 5 || datum.i == 9 || datum.i == 13"},
                       {"calculate": "(datum.i - 1) * PI / 8", "as": "a"},
                       {"calculate": "cos(datum.a) > 0.5 ? 21.3 : cos(datum.a) < -0.5 ? 21.1 : 20.7", "as": "lr"},
                       {"calculate": "datum.lr * sin(datum.a)", "as": "lx"}, {"calculate": "datum.lr * cos(datum.a)", "as": "ly"}],
         "mark": {"type": "text", "font": "Liberation Serif", "fontSize": 11, "fill": "#222222", "align": "center", "baseline": "middle"},
         "encoding": {"x": {"field": "lx", "type": "quantitative", "scale": {"domain": [-31.954, 24.835], "nice": false, "zero": false}},
                      "y": {"field": "ly", "type": "quantitative", "scale": {"domain": [-23.826, 29.385], "nice": false, "zero": false}},
                      "text": {"field": "dir", "type": "nominal"}}},
        {"data": {"name": "titles"},
         "transform": [{"filter": "datum.m == 4"}, {"calculate": "[datum.title, datum.period, datum.calm]", "as": "lines"}],
         "mark": {"type": "text", "align": "left", "baseline": "top", "font": "Noto Sans CJK SC", "fontSize": 17, "lineHeight": 31, "fill": "#222222"},
         "encoding": {"x": {"datum": -29.018, "type": "quantitative", "scale": {"domain": [-31.954, 24.835], "nice": false, "zero": false}},
                      "y": {"datum": 26.09, "type": "quantitative", "scale": {"domain": [-23.826, 29.385], "nice": false, "zero": false}},
                      "text": {"field": "lines", "type": "nominal"}}},
        {"data": {"values": [{"edge": "left"}]},
         "mark": {"type": "rule", "stroke": "#4a4a4a", "strokeWidth": 2},
         "encoding": {"x": {"datum": -31.954, "type": "quantitative", "scale": {"domain": [-31.954, 24.835], "nice": false, "zero": false}}}},
        {"data": {"values": [{"edge": "top"}]},
         "mark": {"type": "rule", "stroke": "#4a4a4a", "strokeWidth": 2},
         "encoding": {"y": {"datum": 29.385, "type": "quantitative", "scale": {"domain": [-23.826, 29.385], "nice": false, "zero": false}}}}
      ]
    }
  ]
}
